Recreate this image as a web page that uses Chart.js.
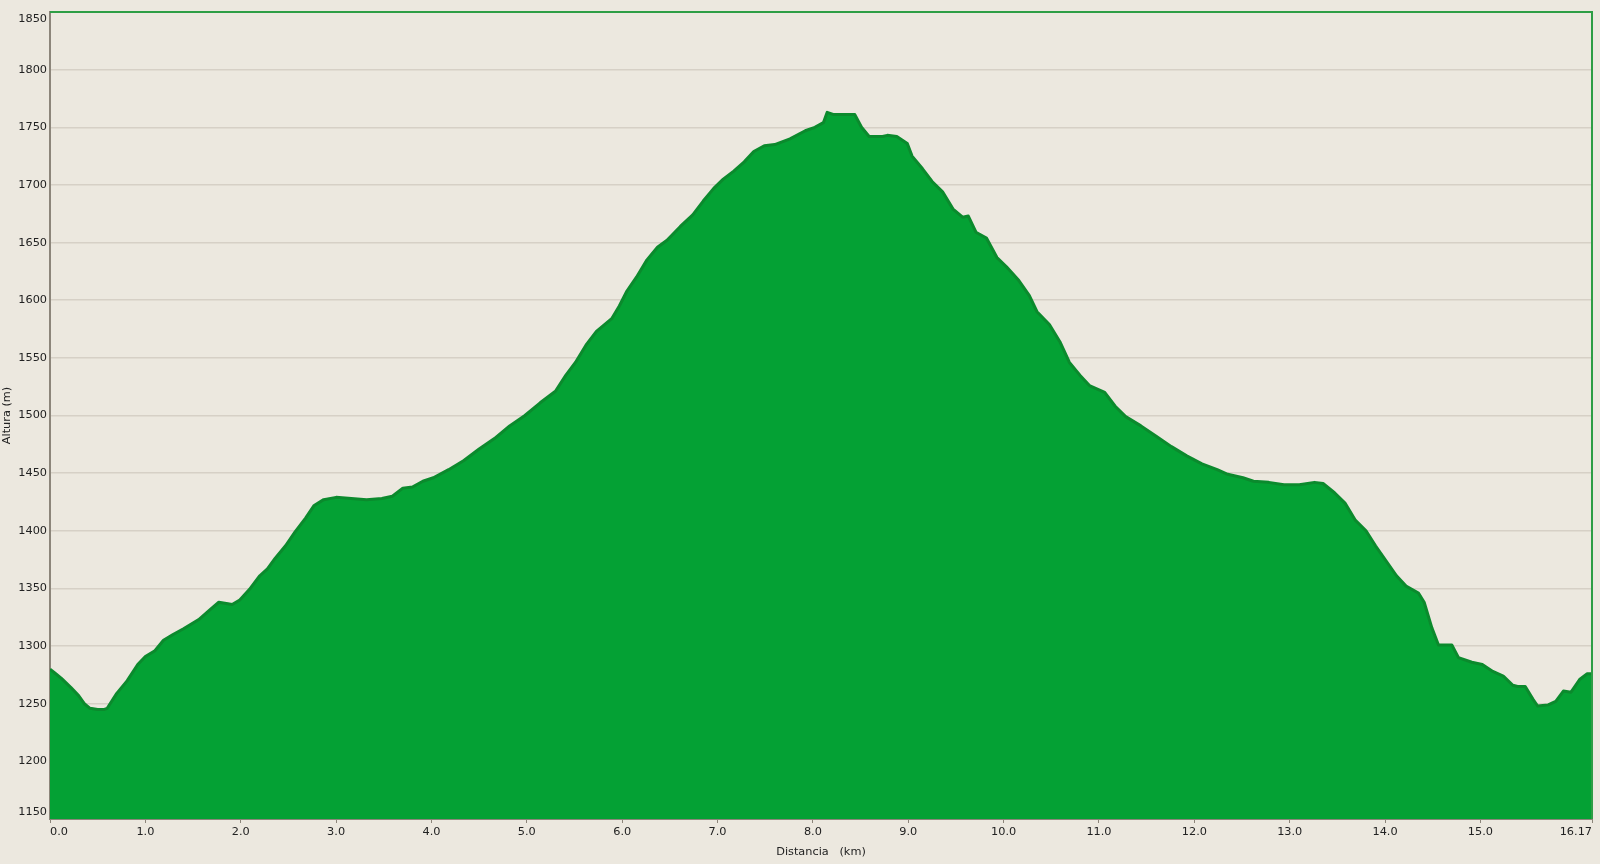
<!DOCTYPE html>
<html>
<head>
<meta charset="utf-8">
<script src="https://cdn.jsdelivr.net/npm/chart.js@4"></script>
<style>
  html, body { margin: 0; padding: 0; background: #ECE8DF; }
  #wrap { width: 1600px; height: 864px; }
</style>
</head>
<body>
<div id="wrap"><canvas id="c" width="1600" height="864"></canvas></div>
<script>
const distances = [0.00,0.06,0.12,0.22,0.30,0.36,0.42,0.50,0.57,0.60,0.63,0.70,0.81,0.92,1.00,1.10,1.19,1.29,1.40,1.56,1.67,1.77,1.85,1.91,1.99,2.09,2.20,2.28,2.36,2.47,2.57,2.68,2.77,2.87,3.00,3.16,3.32,3.48,3.59,3.70,3.80,3.91,4.02,4.18,4.34,4.50,4.66,4.82,4.98,5.14,5.30,5.41,5.51,5.62,5.73,5.89,5.97,6.05,6.15,6.26,6.37,6.47,6.61,6.74,6.85,6.96,7.06,7.17,7.28,7.38,7.49,7.60,7.76,7.92,8.02,8.11,8.15,8.22,8.44,8.51,8.59,8.73,8.78,8.88,8.99,9.04,9.15,9.25,9.36,9.47,9.57,9.63,9.71,9.82,9.93,10.03,10.16,10.27,10.35,10.48,10.59,10.69,10.80,10.90,11.06,11.17,11.28,11.44,11.60,11.76,11.92,12.08,12.24,12.35,12.51,12.62,12.78,12.94,13.10,13.26,13.35,13.47,13.58,13.69,13.80,13.90,14.01,14.12,14.22,14.35,14.41,14.49,14.56,14.70,14.77,14.91,15.02,15.13,15.24,15.34,15.39,15.47,15.55,15.60,15.71,15.79,15.87,15.95,16.04,16.12,16.17];
const elevations = [1280,1276,1272,1264,1257,1250,1246,1245,1245,1246,1250,1259,1270,1284,1291,1296,1305,1310,1315,1323,1331,1338,1337,1336,1340,1349,1361,1367,1376,1387,1399,1411,1422,1427,1429,1428,1427,1428,1430,1437,1438,1443,1446,1453,1461,1471,1480,1491,1500,1511,1521,1535,1546,1561,1573,1584,1595,1608,1620,1635,1646,1652,1664,1674,1686,1697,1705,1712,1720,1729,1734,1735,1740,1747,1750,1754,1763,1761,1761,1750,1742,1742,1743,1742,1736,1725,1714,1703,1694,1679,1672,1673,1659,1654,1637,1629,1617,1604,1590,1579,1564,1546,1535,1526,1520,1508,1499,1491,1482,1473,1465,1458,1453,1449,1446,1443,1442,1440,1440,1442,1441,1433,1424,1409,1400,1387,1374,1361,1352,1346,1338,1316,1301,1301,1290,1286,1284,1278,1274,1266,1265,1265,1254,1248,1249,1252,1261,1260,1271,1276,1276];
const xTickValues = [0,1,2,3,4,5,6,7,8,9,10,11,12,13,14,15,16.17];
const yMin = 1150, yMax = 1850, yStep = 50;
const xTitle = 'Distancia   (km)';
const yTitle = 'Altura (m)';

const points = distances.map((d, i) => ({ x: d, y: elevations[i] }));

const frameBorder = {
  id: 'frameBorder',
  afterDatasetsDraw(chart) {
    const { ctx, chartArea: a } = chart;
    ctx.save();
    ctx.strokeStyle = '#2E9E45';
    ctx.lineWidth = 2;
    ctx.beginPath();
    ctx.moveTo(a.left, a.top);
    ctx.lineTo(a.right, a.top);
    ctx.lineTo(a.right, a.bottom);
    ctx.stroke();
    ctx.restore();
  }
};

const font = { family: 'DejaVu Sans', size: 11.3 };

new Chart(document.getElementById('c'), {
  type: 'line',
  data: {
    datasets: [{
      data: points,
      borderColor: '#0B8A2D',
      borderWidth: 3,
      borderJoinStyle: 'round',
      backgroundColor: '#04A134',
      fill: 'start',
      pointRadius: 0,
      tension: 0
    }]
  },
  options: {
    responsive: false,
    animation: false,
    devicePixelRatio: 1,
    layout: { padding: { left: 0, top: 12, right: 8, bottom: 0 } },
    plugins: { legend: { display: false }, tooltip: { enabled: false } },
    scales: {
      x: {
        type: 'linear',
        min: 0,
        max: 16.17,
        afterBuildTicks(scale) { scale.ticks = xTickValues.map(v => ({ value: v })); },
        afterFit(scale) {
          scale.height = 45;
          scale.paddingLeft = scale.paddingRight = scale.paddingTop = scale.paddingBottom = 0;
        },
        ticks: {
          align: 'inner',
          maxRotation: 0,
          autoSkip: false,
          padding: 2,
          color: '#222',
          font,
          callback(v) { return v === 16.17 ? '16.17' : Number(v).toFixed(1); }
        },
        grid: { display: true, drawOnChartArea: false, drawTicks: true, tickLength: 4, color: '#8C857A', lineWidth: 1 },
        border: { display: true, color: '#8C857A', width: 2 },
        title: { display: true, text: xTitle, color: '#222', font, padding: { top: 0, bottom: 5 } }
      },
      y: {
        min: yMin,
        max: yMax,
        afterFit(scale) {
          scale.width = 50;
          scale.paddingLeft = scale.paddingRight = scale.paddingTop = scale.paddingBottom = 0;
        },
        ticks: {
          stepSize: yStep,
          padding: 3,
          color: '#222',
          font,
          callback(v) {
            if (v === yMax) return ['', String(v)];
            if (v === yMin) return [String(v), ''];
            return String(v);
          }
        },
        grid: { display: true, drawOnChartArea: true, drawTicks: false, color: '#D6D0C6', lineWidth: 1.5 },
        border: { display: true, color: '#8C857A', width: 2 },
        title: { display: true, text: yTitle, color: '#222', font, padding: 0 }
      }
    }
  },
  plugins: [frameBorder]
});
</script>
</body>
</html>
